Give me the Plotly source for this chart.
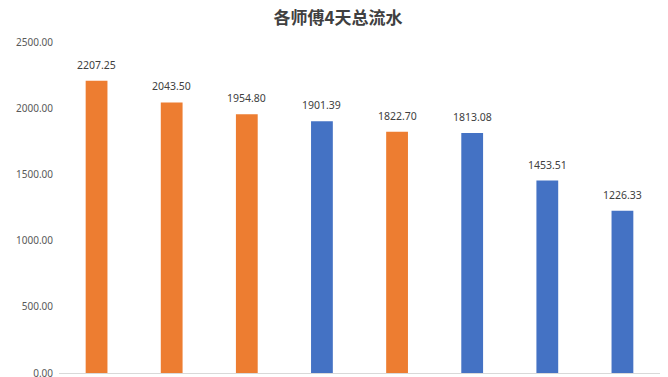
import plotly.graph_objects as go

categories = ["师傅1", "师傅2", "师傅3", "师傅4", "师傅5", "师傅6", "师傅7", "师傅8"]
values = [2207.25, 2043.50, 1954.80, 1901.39, 1822.70, 1813.08, 1453.51, 1226.33]
groups = ["o", "o", "o", "b", "o", "b", "b", "b"]
color_map = {"o": "#ED7D31", "b": "#4472C4"}
tick_vals = [0, 500, 1000, 1500, 2000, 2500]

fig = go.Figure()
fig.add_trace(go.Bar(
    x=categories, y=values,
    marker=dict(color=[color_map[g] for g in groups], line=dict(width=0)),
    hoverinfo="x+y",
))
for c, v in zip(categories, values):
    fig.add_annotation(x=c, y=v, text=f"{v:.2f}", showarrow=False,
                       yanchor="bottom", yshift=7,
                       font=dict(size=10.5, color="#404040", family="Noto Sans, Arial"))

# The page body has an 8px default margin; the figure is offset by 8px and
# extends slightly past the window so the 0.00 label is not dropped.
H = 380
fig.update_layout(
    width=660, height=H,
    margin=dict(l=42, r=8, t=34, b=H - 365),
    paper_bgcolor="white", plot_bgcolor="white",
    bargap=0.71,
    showlegend=False,
    title=dict(text="<b>各师傅4天总流水</b>", x=0.5, xanchor="center", y=1 - 10 / H, yanchor="middle",
               font=dict(size=17, color="#404040", family="Noto Sans CJK SC")),
)
fig.update_xaxes(showticklabels=False, showgrid=False, showline=True, linecolor="#D9D9D9", linewidth=1, ticks="")
fig.update_yaxes(range=[0, 2500], tickvals=tick_vals, ticktext=[f"{v:.2f}" for v in tick_vals],
                 showgrid=False, zeroline=False, showline=False, ticklabelstandoff=5,
                 tickfont=dict(size=10, color="#595959", family="Noto Sans, Arial"))
fig.write_html("out.html")
